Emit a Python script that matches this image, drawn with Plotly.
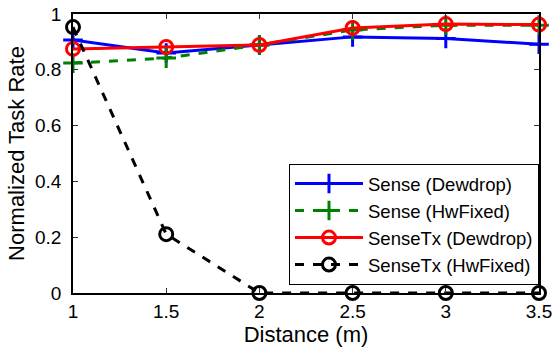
import plotly.graph_objects as go

distance = [1, 1.5, 2, 2.5, 3, 3.5]
sense_dewdrop = [0.907, 0.860, 0.889, 0.918, 0.912, 0.892]
sense_hwfixed = [0.824, 0.842, 0.889, 0.943, 0.960, 0.960]
sensetx_dewdrop = [0.875, 0.882, 0.889, 0.950, 0.964, 0.962]
sensetx_hwfixed = [0.953, 0.211, 0.0, 0.0, 0.0, 0.0]

x_ticks = [1, 1.5, 2, 2.5, 3, 3.5]
x_ticktext = ["1", "1.5", "2", "2.5", "3", "3.5"]
y_ticks = [0, 0.2, 0.4, 0.6, 0.8, 1]
y_ticktext = ["0", "0.2", "0.4", "0.6", "0.8", "1"]

FONT = "Liberation Sans"

fig = go.Figure()
fig.add_trace(go.Scatter(
    x=distance, y=sense_dewdrop, name="Sense (Dewdrop)", mode="lines+markers",
    line=dict(color="#0000ff", width=3),
    marker=dict(symbol="cross-thin", size=14, line=dict(color="#0000ff", width=3)),
    cliponaxis=False))
fig.add_trace(go.Scatter(
    x=distance, y=sense_hwfixed, name="Sense (HwFixed)", mode="lines+markers",
    line=dict(color="#008000", width=3, dash="dash"),
    marker=dict(symbol="cross-thin", size=14, line=dict(color="#008000", width=3)),
    cliponaxis=False))
fig.add_trace(go.Scatter(
    x=distance, y=sensetx_dewdrop, name="SenseTx (Dewdrop)", mode="lines+markers",
    line=dict(color="#ff0000", width=3),
    marker=dict(symbol="circle-open", size=13, line=dict(color="#ff0000", width=3)),
    cliponaxis=False))
fig.add_trace(go.Scatter(
    x=distance, y=sensetx_hwfixed, name="SenseTx (HwFixed)", mode="lines+markers",
    line=dict(color="#000000", width=3, dash="dash"),
    marker=dict(symbol="circle-open", size=13, line=dict(color="#000000", width=3)),
    cliponaxis=False))

fig.update_layout(
    width=553, height=349,
    margin=dict(l=73, r=14, t=14, b=56),
    paper_bgcolor="white", plot_bgcolor="white",
    font=dict(family=FONT, size=19, color="black"),
    showlegend=True,
    legend=dict(
        x=1, y=0.029, xanchor="right", yanchor="bottom",
        bgcolor="white", bordercolor="black", borderwidth=1,
        font=dict(family=FONT, size=18.5), itemwidth=68,
        tracegroupgap=0,
    ),
)
fig.update_xaxes(
    range=[1, 3.5], tickvals=x_ticks, ticktext=x_ticktext,
    showgrid=False, zeroline=False, showline=True, linecolor="black", linewidth=1.5,
    mirror="ticks", ticks="inside", ticklen=5, tickcolor="#333",
    tickfont=dict(family=FONT, size=19), automargin=False, ticklabeloverflow="allow",
    title=dict(text="Distance (m)", font=dict(family=FONT, size=22), standoff=2),
)
fig.update_yaxes(
    range=[0, 1], tickvals=y_ticks, ticktext=y_ticktext,
    showgrid=False, zeroline=False, showline=True, linecolor="black", linewidth=1.5,
    mirror="ticks", ticks="inside", ticklen=5, tickcolor="#333",
    tickfont=dict(family=FONT, size=19), automargin=False, ticklabelstandoff=6,
    ticklabeloverflow="allow",
    title=dict(text="Normalized Task Rate", font=dict(family=FONT, size=22), standoff=4),
)

fig.write_html("out.html", config={"displayModeBar": False},
               post_script="document.body.style.margin='0';")
